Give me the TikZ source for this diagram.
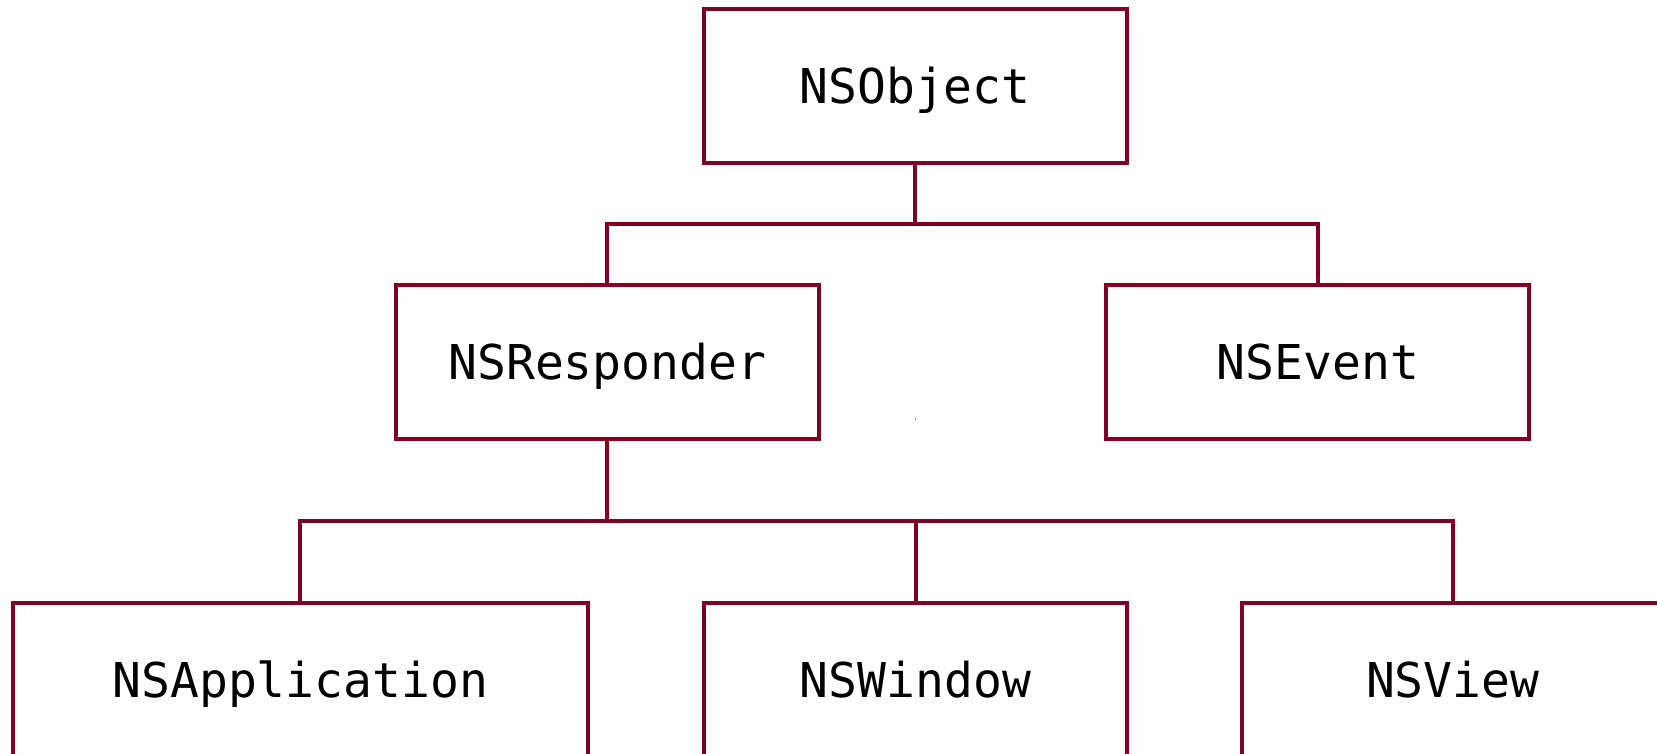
\documentclass[tikz,border=0pt]{standalone}
\usepackage{fontspec}
\setmonofont{DejaVu Sans Mono}
\definecolor{wine}{RGB}{128,0,36}
\tikzset{
  classbox/.style={draw=wine, line width=4pt, rectangle, minimum height=154pt,
    inner sep=0pt, outer sep=0pt, text=black,
    font=\ttfamily\fontsize{48}{58}\selectfont, text height=35pt, text depth=0pt},
  link/.style={draw=wine, line width=4pt}
}
\begin{document}
\begin{tikzpicture}[x=1pt, y=-1pt]
  \useasboundingbox (0,0) rectangle (1657,754);
  \clip (0,0) rectangle (1657,754);

  % class hierarchy
  \node[classbox, minimum width=423pt] (obj)  at (915.0,86.3)  {NSObject};
  \node[classbox, minimum width=423pt] (resp) at (607.3,361.7) {NSResponder};
  \node[classbox, minimum width=423pt] (evt)  at (1317.8,361.7) {NSEvent};
  \node[classbox, minimum width=575.4pt] (app) at (300.3,679.5) {NSApplication};
  \node[classbox, minimum width=423pt] (win)  at (915.5,679.5) {NSWindow};
  \node[classbox, minimum width=422pt] (view) at (1452.7,679.5) {NSView};

  % bus levels
  \coordinate (busA) at (0,224);
  \coordinate (busB) at (0,520.5);

  % NSObject -> NSResponder, NSEvent
  \draw[link] (obj.south) -- (obj.south |- busA);
  \draw[link] (resp.north) -- (resp.north |- busA) -- (evt.north |- busA) -- (evt.north);

  % NSResponder -> NSApplication, NSWindow, NSView
  \draw[link] (resp.south) -- (resp.south |- busB);
  \draw[link] (app.north) -- (app.north |- busB) -- (view.north |- busB) -- (view.north);
  \draw[link] (win.north) -- (win.north |- busB);

  % stray mark
  \fill[wine, opacity=0.5] (914.8,418.3) rectangle (916.2,419.7);
\end{tikzpicture}
\end{document}
